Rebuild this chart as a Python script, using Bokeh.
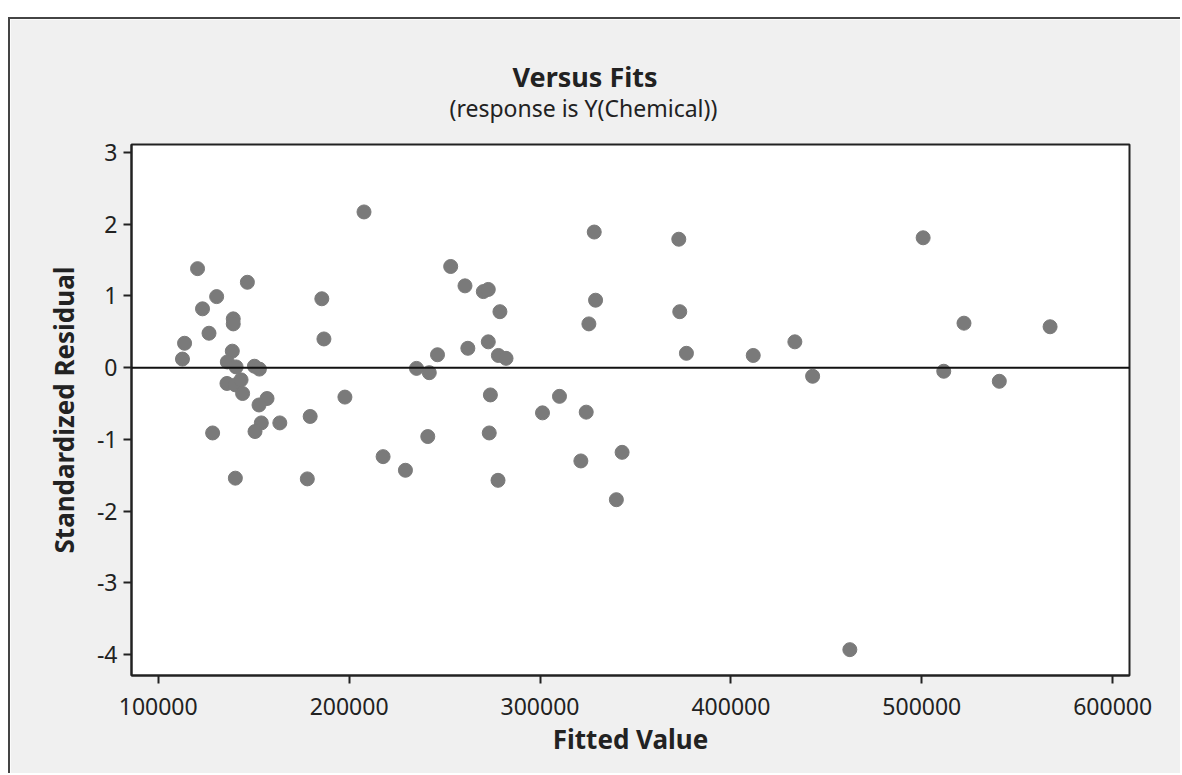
from bokeh.plotting import figure
from bokeh.models import Span, Title, Range1d, FixedTicker, NumeralTickFormatter
from bokeh.embed import file_html
from bokeh.resources import INLINE

# Fitted values and standardized residuals of the regression on Y(Chemical)
fits = [
    120600, 146700, 130600, 123200, 139300, 139300, 126600, 113800, 112700, 138800,
    136200, 140800, 150400, 153000, 136000, 140400, 143400, 144200, 157000, 152800,
    154000, 150700, 163700, 128500, 179600, 197800, 185700, 186800, 140400, 178100,
    207800, 253200, 260700, 270300, 272900, 279000, 272900, 262200, 246300, 278200,
    282200, 235300, 242000, 274000, 241200, 273400, 217800, 229500, 278000, 328400,
    372700, 329100, 373200, 325600, 376700, 310200, 301300, 324200, 343000, 321400,
    340000, 500700, 522100, 567200, 433500, 411700, 442800, 511500, 540600, 462300,
]
resid = [
    1.38, 1.19, 0.99, 0.82, 0.68, 0.61, 0.48, 0.34, 0.12, 0.23,
    0.08, 0.01, 0.02, -0.02, -0.22, -0.24, -0.17, -0.36, -0.43, -0.52,
    -0.77, -0.89, -0.77, -0.91, -0.68, -0.41, 0.96, 0.40, -1.54, -1.55,
    2.17, 1.41, 1.14, 1.06, 1.09, 0.78, 0.36, 0.27, 0.18, 0.17,
    0.13, -0.01, -0.07, -0.38, -0.96, -0.91, -1.24, -1.43, -1.57, 1.89,
    1.79, 0.94, 0.78, 0.61, 0.20, -0.40, -0.63, -0.62, -1.18, -1.30,
    -1.84, 1.81, 0.62, 0.57, 0.36, 0.17, -0.12, -0.05, -0.19, -3.93,
]
x_ticks = [100000, 200000, 300000, 400000, 500000, 600000]
y_ticks = [-4, -3, -2, -1, 0, 1, 2, 3]

FONT = "Noto Sans"
INK = "#222222"

# graph window sits inside a border, offset from the page edge
p = figure(
    width=1172, height=756,
    output_backend="svg", toolbar_location=None, title=None,
    x_range=Range1d(86000, 608800), y_range=Range1d(-4.29, 3.11),
    min_border_left=121, min_border_right=53,
    min_border_top=125, min_border_bottom=100,
)
p.styles = {
    "margin-left": "8px",
    "margin-top": "17px",
    "border-left": "2px solid #444444",
    "border-top": "2px solid #444444",
}
p.border_fill_color = "#f0f0f0"
p.background_fill_color = "#ffffff"
p.outline_line_color = INK
p.outline_line_width = 2
p.outline_line_alpha = 1.0
p.grid.visible = False

for ax in (p.xaxis[0], p.yaxis[0]):
    ax.axis_line_color = INK
    ax.axis_line_width = 2
    ax.major_tick_line_color = INK
    ax.major_tick_line_width = 2
    ax.major_tick_out = 8
    ax.major_tick_in = 0
    ax.minor_tick_line_color = None
    ax.major_label_text_font = FONT
    ax.major_label_text_font_size = "23px"
    ax.major_label_text_color = INK
    ax.axis_label_text_font = FONT
    ax.axis_label_text_font_size = "26px"
    ax.axis_label_text_font_style = "bold"
    ax.axis_label_text_color = INK
    ax.formatter = NumeralTickFormatter(format="0")

p.xaxis.ticker = FixedTicker(ticks=x_ticks)
p.xaxis.axis_label = "Fitted Value"
p.xaxis.major_label_standoff = 14
p.xaxis.axis_label_standoff = 3

p.yaxis.ticker = FixedTicker(ticks=y_ticks)
p.yaxis.axis_label = "Standardized Residual"
p.yaxis.major_label_standoff = 6
p.yaxis.axis_label_standoff = 12

# reference line at zero residual
p.add_layout(Span(location=0, dimension="width", line_color="#111111", line_width=2))

p.scatter(fits, resid, size=14, fill_color="#7a7a7a", line_color="#7a7a7a")

# subtitle first so it sits nearest the frame, title above it
p.add_layout(Title(text="(response is Y(Chemical))", align="left", offset=318,
                   text_font=FONT, text_font_size="23px", text_font_style="normal",
                   text_color=INK, standoff=42), "above")
p.add_layout(Title(text="Versus Fits", align="left", offset=381,
                   text_font=FONT, text_font_size="27px", text_font_style="bold",
                   text_color=INK, standoff=-52), "above")

open("out.html", "w").write(file_html(p, INLINE))
